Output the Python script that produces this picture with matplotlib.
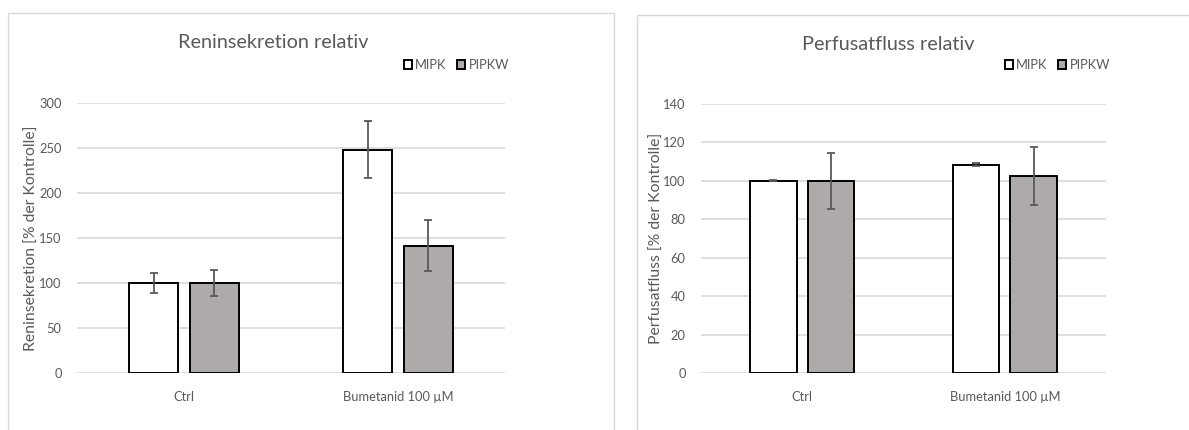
import matplotlib
matplotlib.use("Agg")
import matplotlib.pyplot as plt
from matplotlib.patches import Rectangle, Patch
import numpy as np

# Data
categories = ["Ctrl", "Bumetanid 100 µM"]
series = ["MIPK", "PIPKW"]

renin_mipk = [100, 248]
renin_mipk_err = [11, 31.5]
renin_pipkw = [100, 141.5]
renin_pipkw_err = [14, 28]

flow_mipk = [100, 108.3]
flow_mipk_err = [0.3, 0.8]
flow_pipkw = [100, 102.6]
flow_pipkw_err = [14.6, 15]

W, H = 1189, 430
DPI = 100
plt.rcParams['font.family'] = ['Lato', 'DejaVu Sans']

fig = plt.figure(figsize=(W / DPI, H / DPI), dpi=DPI)
fig.patch.set_facecolor("white")

TEXT = "#595959"
GRID = "#d9d9d9"
GREY = "#aeaaaa"
ERR = "#595959"


def px_axes(x0, y0, x1, y1):
    return fig.add_axes([x0 / W, 1 - y1 / H, (x1 - x0) / W, (y1 - y0) / H])


# chart frames
fig.add_artist(Rectangle((8 / W, -0.1), (614 - 8) / W, 1.1 - 13 / H,
                         transform=fig.transFigure, fill=False,
                         edgecolor=GRID, linewidth=1))
fig.add_artist(Rectangle((637 / W, -0.1), 1.0, 1.1 - 15 / H,
                         transform=fig.transFigure, fill=False,
                         edgecolor=GRID, linewidth=1))


def draw_panel(ax, mipk, mipk_err, pipkw, pipkw_err, ymax, ystep, title,
               ylabel, title_xy, legend_xy, ylabel_x):
    x = np.arange(len(categories))
    width = 0.228
    off = 0.142
    ax.bar(x - off, mipk, width, color="white", edgecolor="black",
           linewidth=1.4, zorder=3)
    ax.bar(x + off, pipkw, width, color=GREY, edgecolor="black",
           linewidth=1.4, zorder=3)
    ax.errorbar(x - off, mipk, yerr=mipk_err, fmt="none", ecolor=ERR,
                elinewidth=1.3, capsize=2.7, capthick=1.3, zorder=4)
    ax.errorbar(x + off, pipkw, yerr=pipkw_err, fmt="none", ecolor=ERR,
                elinewidth=1.3, capsize=2.7, capthick=1.3, zorder=4)

    ax.set_xlim(-0.5, len(categories) - 0.5)
    ax.set_ylim(0, ymax)
    ax.set_yticks(np.arange(0, ymax + 1, ystep))
    ax.set_xticks(x)
    ax.set_xticklabels(categories)
    ax.grid(axis="y", color=GRID, linewidth=1.2, zorder=0)
    ax.set_axisbelow(True)
    for s in ax.spines.values():
        s.set_visible(False)
    ax.tick_params(axis="both", length=0, colors=TEXT, labelsize=9.3)
    ax.tick_params(axis="y", pad=11)
    ax.tick_params(axis="x", pad=13)

    fig.text(ylabel_x / W, 1 - 238 / H, ylabel, rotation=90, ha="center",
             va="center", color=TEXT, fontsize=11.3)
    fig.text(title_xy[0] / W, 1 - title_xy[1] / H, title, ha="center",
             va="center", color=TEXT, fontsize=14.3)

    handles = [Patch(facecolor="white", edgecolor="black", linewidth=1.4),
               Patch(facecolor=GREY, edgecolor="black", linewidth=1.4)]
    fig.legend(handles, series, loc="center right",
               bbox_to_anchor=(legend_xy[0] / W, 1 - legend_xy[1] / H),
               ncol=2, frameon=False, fontsize=9.3, handlelength=0.65,
               handleheight=0.75, handletextpad=0.25, columnspacing=0.8,
               labelcolor=TEXT, borderaxespad=0, borderpad=0)


ax1 = px_axes(77, 103, 505, 373)
draw_panel(ax1, renin_mipk, renin_mipk_err, renin_pipkw, renin_pipkw_err,
           300, 50, "Reninsekretion relativ",
           "Reninsekretion [% der Kontrolle]", (273, 43), (509, 65), 32)

ax2 = px_axes(701, 103.7, 1106, 373.3)
draw_panel(ax2, flow_mipk, flow_mipk_err, flow_pipkw, flow_pipkw_err,
           140, 20, "Perfusatfluss relativ",
           "Perfusatfluss [% der Kontrolle]", (888, 45), (1110, 65), 657)

fig.savefig("out.png", dpi=DPI, facecolor="white")
